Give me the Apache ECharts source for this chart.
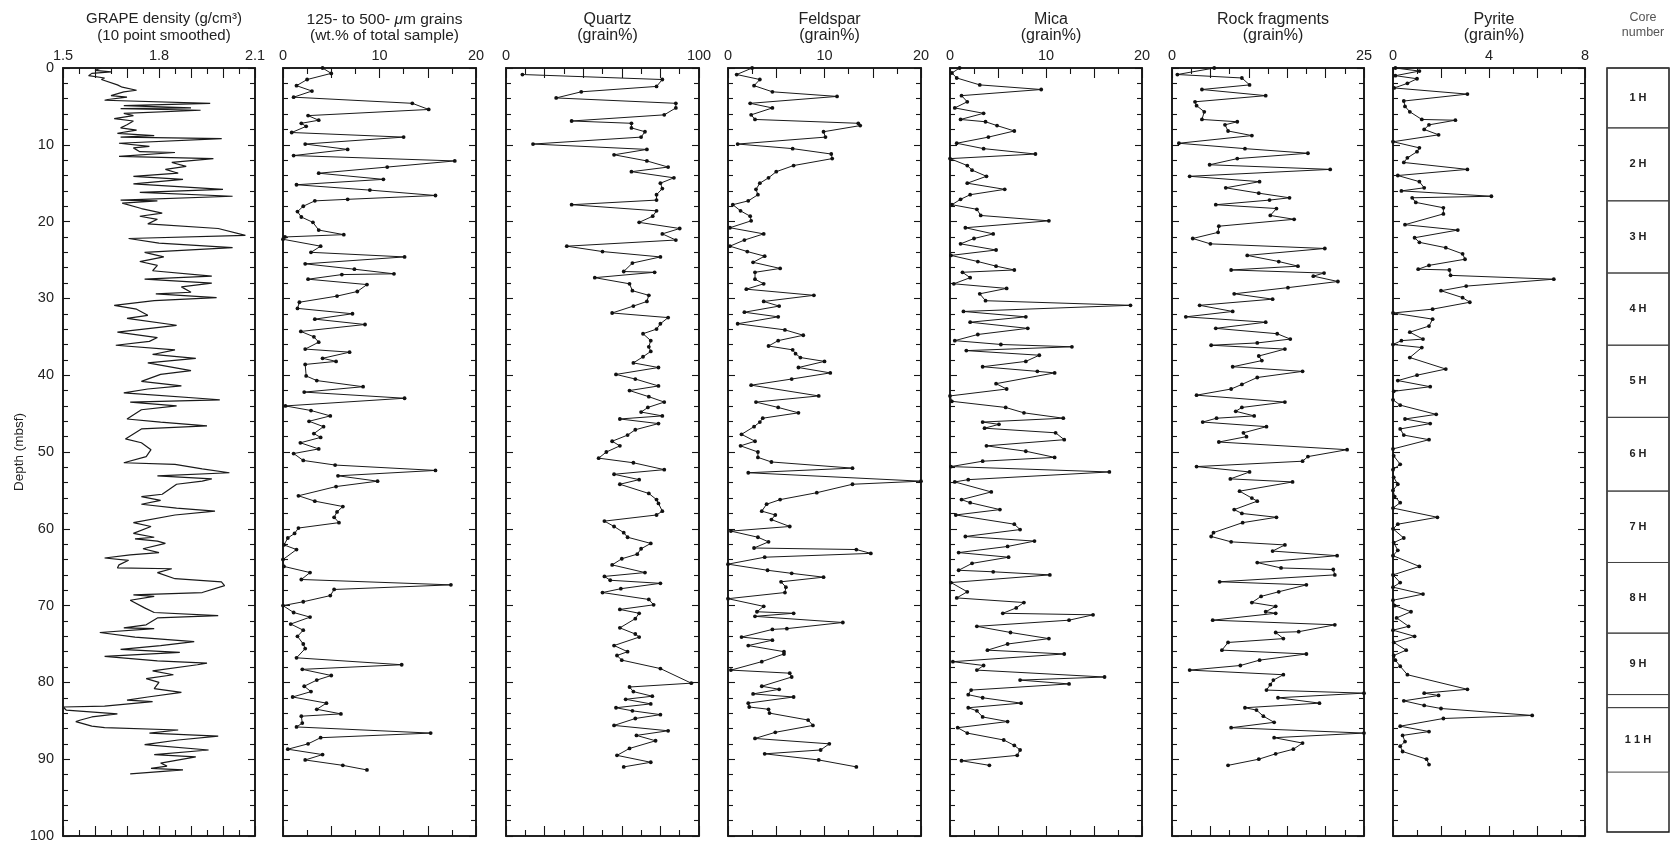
<!DOCTYPE html>
<html>
<head>
<meta charset="utf-8">
<script src="https://cdn.jsdelivr.net/npm/echarts@6/dist/echarts.min.js"></script>
<style>
html,body{margin:0;padding:0;background:#fff;}
#chart{width:1680px;height:848px;}
</style>
</head>
<body>
<div id="chart"></div>
<script>
// ---------- DATA: [depth (mbsf), value] ----------
const grapeDensity = [[0,1.62],[0.3,1.60],[0.5,1.65],[0.7,1.59],[1.0,1.58],[1.3,1.63],[1.5,1.62],[2.2,1.67],[2.5,1.685],[2.9,1.73],[3.1,1.69],[3.6,1.65],[3.8,1.70],[4.1,1.64],[4.2,1.63],[4.6,1.96],[4.9,1.69],[5.2,1.90],[5.3,1.68],[5.5,1.93],[5.9,1.69],[6.2,1.72],[6.6,1.66],[6.9,1.72],[7.4,1.70],[7.8,1.68],[8.1,1.73],[8.5,1.67],[8.8,1.785],[9.0,1.68],[9.2,1.996],[9.8,1.675],[10.2,1.77],[10.4,1.72],[10.9,1.74],[11.0,1.85],[11.5,1.675],[11.8,1.97],[12.3,1.84],[12.8,1.885],[13.2,1.82],[13.7,1.86],[14.1,1.72],[14.5,1.875],[15.1,1.72],[15.8,2.00],[16.2,1.74],[16.7,2.03],[17.2,1.68],[17.3,1.795],[17.6,1.685],[18.3,1.745],[18.9,1.81],[19.3,1.74],[19.7,1.795],[20.3,1.765],[20.9,1.985],[21.8,2.07],[22.2,1.705],[22.8,1.80],[23.4,2.03],[24.0,1.755],[24.6,1.815],[25.2,1.74],[25.7,1.795],[26.4,1.78],[27.1,1.965],[27.5,1.755],[28.0,1.965],[28.5,1.87],[29.2,1.90],[29.4,1.79],[29.9,1.98],[30.3,1.785],[30.9,1.66],[31.4,1.73],[32.2,1.765],[32.6,1.70],[33.5,1.855],[34.4,1.67],[35.1,1.795],[35.6,1.77],[36.1,1.665],[36.7,1.85],[37.3,1.78],[37.8,1.915],[38.4,1.765],[39.4,1.90],[39.9,1.805],[40.8,1.745],[41.4,1.87],[41.8,1.765],[42.3,1.69],[43.2,1.99],[43.5,1.71],[44.0,1.855],[44.5,1.745],[45.7,1.70],[46.1,1.805],[46.6,1.95],[47.0,1.745],[48.3,1.695],[48.8,1.745],[49.7,1.775],[50.6,1.76],[51.4,1.69],[51.6,1.85],[52.2,1.935],[52.7,2.02],[53.1,1.795],[53.5,1.965],[53.8,1.935],[54.2,1.855],[55.5,1.81],[55.8,1.745],[56.3,1.805],[56.8,1.745],[57.3,1.855],[57.7,1.975],[58.2,1.85],[59.2,1.72],[59.7,1.775],[60.6,1.72],[61.1,1.785],[61.3,1.725],[61.6,1.795],[61.9,1.82],[62.6,1.75],[63.1,1.80],[63.4,1.71],[63.8,1.63],[64.1,1.705],[64.7,1.675],[65.1,1.67],[65.2,1.84],[65.7,1.795],[66.5,1.85],[66.9,1.995],[67.4,2.005],[68.3,1.935],[68.6,1.72],[68.8,1.785],[69.3,1.71],[70.3,1.755],[70.9,1.785],[71.3,1.985],[71.6,1.795],[72.5,1.76],[72.9,1.69],[73.0,1.785],[73.5,1.615],[74.1,1.725],[74.7,1.91],[75.2,1.805],[75.7,1.68],[76.1,1.865],[76.6,1.63],[77.2,1.795],[77.5,1.95],[77.7,1.92],[78.5,1.78],[79.0,1.845],[79.5,1.76],[80.0,1.80],[80.8,1.785],[81.3,1.87],[81.9,1.765],[82.3,1.70],[82.5,1.78],[83.1,1.63],[83.2,1.50],[83.6,1.51],[84.1,1.67],[84.5,1.59],[84.9,1.555],[85.1,1.54],[85.7,1.59],[85.9,1.63],[86.2,1.86],[86.6,1.77],[87.0,1.985],[87.5,1.86],[88.1,1.755],[88.8,1.955],[89.4,1.785],[89.7,1.915],[90.5,1.805],[90.9,1.825],[91.2,1.775],[91.4,1.875],[91.9,1.71]];

const coarseGrains = [[0,4.1],[0.7,5.0],[1.5,2.5],[2.3,1.4],[3.0,3.0],[3.8,1.1],[4.6,13.4],[5.4,15.1],[6.2,2.6],[6.8,3.7],[7.2,1.9],[7.6,2.4],[8.4,0.9],[9.0,12.5],[9.9,2.3],[10.6,6.7],[11.4,1.1],[12.1,17.8],[12.9,10.8],[13.7,3.7],[14.5,10.4],[15.2,1.4],[15.9,9.0],[16.6,15.8],[17.1,6.7],[17.3,3.3],[18.0,2.1],[18.7,1.5],[19.4,1.9],[20.1,3.1],[21.1,3.7],[21.7,6.3],[22.0,0.2],[22.3,0],[23.2,3.9],[24.0,2.9],[24.6,12.6],[25.5,2.3],[26.2,7.4],[26.8,11.5],[26.9,6.1],[27.5,2.6],[28.2,8.7],[29.1,7.7],[29.7,5.6],[30.5,1.7],[31.3,1.5],[32.0,7.2],[32.7,3.3],[33.4,8.5],[34.3,1.85],[35.0,3.2],[35.7,3.7],[36.6,2.3],[37.0,6.9],[37.8,4.1],[38.2,5.5],[38.6,2.3],[40.1,2.4],[40.7,3.5],[41.5,8.3],[42.2,2.2],[43.0,12.6],[44.0,0.25],[44.6,2.9],[45.3,4.9],[46.0,2.7],[46.7,4.2],[47.6,3.2],[48.1,3.9],[48.8,1.8],[49.6,3.7],[50.2,1.1],[51.1,2.1],[51.7,5.4],[52.4,15.8],[53.1,5.7],[53.8,9.8],[54.5,5.5],[55.7,1.6],[56.4,3.3],[57.1,6.2],[57.8,5.6],[58.5,5.3],[59.2,5.8],[59.9,1.6],[60.6,1.2],[61.2,0.5],[62.1,0.1],[62.7,1.4],[64.0,0],[64.9,0.1],[65.7,2.8],[66.6,1.9],[67.3,17.4],[67.9,5.3],[68.7,4.9],[69.5,2.1],[70.0,0],[70.9,1.1],[71.5,2.8],[72.4,0.8],[73.2,2.1],[74.0,1.5],[75.0,2.1],[75.6,2.3],[76.8,1.4],[77.7,12.3],[78.3,2.0],[79.1,5.0],[79.7,3.5],[80.5,2.2],[81.2,2.9],[81.9,1.0],[82.7,4.5],[83.5,3.5],[84.1,6.0],[84.4,1.9],[85.3,2.0],[85.8,1.4],[86.6,15.3],[87.2,3.9],[88.0,2.6],[88.7,0.5],[89.4,4.1],[90.1,2.3],[90.8,6.2],[91.4,8.7]];

const quartz = [[0.85,8.5],[1.5,81],[2.4,78],[3.1,39],[3.9,26],[4.6,88],[5.2,88],[6.1,82],[6.9,34],[7.2,65],[7.8,65],[8.3,72],[9.0,70],[9.9,14],[10.6,73],[11.3,56],[12.1,73],[12.9,84],[13.5,65],[14.3,87],[15.0,80],[15.7,81],[16.5,78],[17.2,78],[17.8,34],[18.6,78],[19.3,76],[20.1,69],[20.9,90],[21.6,81],[22.4,88],[23.2,31.5],[23.9,50],[24.6,80],[25.4,65.5],[26.5,61],[26.6,77],[27.3,46],[28.1,64],[29.0,65.5],[29.6,74],[30.4,73],[31.0,66],[31.9,55],[32.5,84],[33.3,80],[34.0,78],[34.6,71],[35.5,75],[36.3,74],[36.9,75],[37.6,71],[38.4,66],[39.0,79],[39.9,57],[40.5,67],[41.4,79],[42.0,64],[42.8,74],[43.5,82],[44.2,73.5],[44.8,70],[45.3,81],[45.7,59],[46.3,79],[47.1,67],[47.8,63],[48.6,55],[49.2,59],[50.0,52],[50.8,48],[51.4,66],[52.3,82],[52.9,56],[53.6,69],[54.2,59],[55.4,74],[56.2,78],[56.7,79],[57.7,81],[58.2,78],[59.0,51],[59.7,56],[60.5,61],[61.1,63],[61.9,75],[62.6,70],[63.3,68],[63.9,60],[64.7,55],[65.7,72],[66.2,51],[66.7,54],[67.1,80],[67.8,59.5],[68.3,50],[69.2,74],[69.9,76.5],[70.5,59],[71.0,69],[71.7,67],[72.9,59],[73.7,67],[74.1,69],[75.2,56],[76.0,63],[76.5,57.5],[77.1,60],[78.2,80],[80.1,96],[80.6,64],[81.2,66],[81.8,75.8],[82.2,62],[82.8,75],[83.3,57],[83.7,65.5],[84.2,80],[84.7,67],[85.6,56],[86.3,84],[86.9,67.6],[87.6,77.5],[88.6,64],[89.5,57.5],[90.4,75],[91.0,61]];

const feldspar = [[0,2.5],[0.85,0.9],[1.5,3.3],[2.3,2.7],[3.1,4.6],[3.7,11.3],[4.6,2.3],[5.2,4.6],[6.1,2.4],[6.7,2.8],[7.2,13.5],[7.5,13.7],[8.3,9.9],[9.0,10.1],[9.9,1.0],[10.5,6.7],[11.2,10.7],[11.8,10.8],[12.7,6.8],[13.5,5.0],[14.3,4.2],[15.0,3.3],[15.8,2.9],[16.5,3.1],[17.3,2.1],[17.8,0.5],[18.6,1.3],[19.3,2.3],[19.9,2.4],[20.8,0.2],[21.6,3.7],[22.4,1.7],[23.2,0.2],[23.9,2.0],[24.5,3.8],[25.3,2.6],[26.1,5.4],[26.6,2.8],[27.5,2.8],[28.1,3.7],[28.8,1.9],[29.6,8.9],[30.4,3.7],[31.0,5.3],[31.8,1.7],[32.4,5.2],[33.3,1.0],[34.1,5.9],[34.8,7.8],[35.5,5.2],[36.2,4.2],[36.7,6.7],[37.2,7.0],[37.7,7.5],[38.2,10.0],[39.0,7.3],[39.7,10.6],[40.5,6.6],[41.3,2.4],[42.7,9.4],[43.5,2.9],[44.2,5.2],[44.9,7.3],[45.6,3.6],[46.1,3.3],[46.7,2.7],[47.7,1.4],[48.6,2.8],[49.2,1.3],[50.0,3.1],[50.7,3.1],[51.3,4.5],[52.1,12.9],[52.7,2.1],[53.8,20],[54.2,12.9],[55.3,9.2],[56.2,5.4],[56.8,4.0],[57.7,3.5],[58.2,4.9],[58.8,4.5],[59.7,6.4],[60.3,0.3],[61.1,3.1],[61.7,4.2],[62.5,2.7],[62.7,13.3],[63.2,14.8],[63.7,3.8],[64.6,0],[65.4,4.1],[65.8,6.6],[66.3,9.9],[66.9,5.5],[67.6,6.0],[68.3,5.9],[69.1,0],[70.1,3.7],[70.8,3.0],[71.0,6.8],[71.4,2.8],[72.2,11.9],[73.0,6.1],[73.1,4.6],[74.1,1.4],[74.5,4.6],[75.2,2.1],[76.0,5.8],[76.3,5.8],[77.3,3.5],[78.4,0.3],[78.8,6.4],[79.3,6.6],[80.5,3.5],[80.9,5.3],[81.5,2.6],[81.9,6.8],[82.7,2.1],[83.2,2.2],[83.5,4.2],[84.0,4.3],[84.9,8.3],[85.6,8.8],[86.5,4.9],[87.3,2.8],[88.0,10.5],[88.8,9.6],[89.3,3.8],[90.1,9.4],[91.0,13.3]];

const mica = [[0,1.0],[0.65,0.2],[1.3,0.7],[2.2,3.1],[2.8,9.5],[3.6,1.2],[4.4,1.8],[5.2,0.5],[5.9,3.5],[6.7,1.1],[7.0,3.7],[7.5,4.9],[8.2,6.7],[9.0,4.0],[9.8,0.7],[10.5,3.5],[11.2,8.9],[11.8,0],[12.7,1.8],[13.3,2.3],[14.1,3.8],[15.0,1.8],[15.8,5.7],[16.5,2.1],[17.1,1.1],[17.8,0.2],[18.4,2.8],[19.2,3.2],[19.9,10.3],[20.8,1.6],[21.6,4.5],[22.2,2.5],[22.9,1.1],[23.7,4.8],[24.4,0.1],[25.2,2.9],[25.8,4.8],[26.3,6.7],[26.6,1.3],[27.3,2.1],[28.1,0.4],[28.7,5.9],[29.4,3.1],[30.3,3.7],[30.9,18.8],[31.7,1.4],[32.4,7.9],[33.1,2.1],[33.9,8.1],[34.7,2.9],[35.5,0.5],[36.0,5.3],[36.3,12.7],[36.8,1.7],[37.4,9.3],[38.2,7.9],[38.9,3.4],[39.5,9.1],[39.7,10.9],[41.1,4.8],[41.8,5.9],[42.7,0],[43.4,0.2],[44.2,5.8],[44.9,7.7],[45.6,11.8],[46.1,3.4],[46.4,5.1],[46.9,3.6],[47.5,11.0],[48.4,11.9],[49.2,3.8],[49.9,7.9],[50.7,10.9],[51.2,3.4],[51.9,0.1],[52.6,16.6],[53.6,1.9],[53.9,0.5],[55.2,4.3],[56.2,1.2],[56.6,2.1],[57.5,5.2],[58.2,0.6],[59.4,6.7],[60.1,7.3],[61.0,1.6],[61.6,8.8],[62.3,6.0],[63.1,0.9],[63.7,6.1],[64.5,2.3],[65.4,0.9],[65.6,4.5],[66.0,10.4],[67.0,0.1],[68.2,1.8],[69.0,0.7],[69.6,7.7],[70.3,6.9],[71.0,5.5],[71.2,14.9],[71.9,12.4],[72.7,2.8],[73.5,6.3],[74.3,10.3],[75.0,6.0],[75.8,3.9],[76.3,11.9],[77.3,0.3],[77.8,3.5],[78.4,2.8],[79.3,16.1],[79.7,7.3],[80.2,12.4],[81.0,2.2],[81.6,1.9],[82.0,3.4],[82.7,7.4],[83.3,1.9],[83.7,2.8],[84.5,3.4],[85.1,6.0],[85.9,0.8],[86.6,1.8],[87.5,5.6],[88.2,6.7],[88.8,7.3],[89.5,7.0],[90.2,1.2],[90.8,4.1]];

const rockFragments = [[0,5.5],[0.85,0.7],[1.3,9.1],[2.2,10.1],[2.8,3.9],[3.6,12.2],[4.4,3.0],[4.9,3.2],[5.7,4.2],[6.7,3.9],[7.0,8.5],[7.4,6.9],[8.2,7.3],[8.8,10.4],[9.8,0.9],[10.5,9.5],[11.1,17.7],[11.8,8.5],[12.6,4.9],[13.2,20.6],[14.1,2.3],[14.8,11.4],[15.6,7.0],[16.3,11.3],[16.9,15.3],[17.2,12.7],[17.8,5.7],[18.3,13.6],[19.2,12.8],[19.7,15.9],[20.6,6.1],[21.4,6.0],[22.2,2.7],[22.9,5.0],[23.5,19.9],[24.4,9.8],[25.2,13.9],[25.8,16.4],[26.3,7.7],[26.7,19.8],[27.1,18.4],[27.8,21.6],[28.6,15.1],[29.4,8.1],[30.1,13.1],[30.9,3.6],[31.7,7.9],[32.4,1.8],[33.1,12.2],[33.9,5.7],[34.6,13.7],[35.3,15.4],[35.8,11.1],[36.1,5.1],[36.6,14.7],[37.5,11.3],[38.1,11.7],[38.9,7.9],[39.5,17.0],[40.3,11.1],[41.2,9.1],[41.8,7.7],[42.6,3.2],[43.5,14.7],[44.2,9.1],[44.7,8.3],[45.3,10.7],[45.6,5.8],[46.1,4.0],[46.7,12.3],[47.5,9.3],[48.0,9.7],[48.7,6.1],[49.7,22.8],[50.6,17.7],[51.2,17.0],[51.9,3.2],[52.6,10.1],[53.5,7.6],[53.9,15.7],[55.1,8.8],[56.0,10.4],[56.4,11.1],[57.5,8.1],[58.0,9.1],[58.5,13.6],[59.2,9.2],[60.5,5.4],[61.0,5.1],[61.7,7.7],[62.1,14.7],[62.9,13.1],[63.5,21.5],[64.4,11.1],[65.1,14.2],[65.3,21.0],[66.0,21.2],[66.9,6.2],[67.3,17.5],[68.2,13.9],[68.8,11.6],[69.6,10.4],[70.1,13.5],[70.8,12.2],[71.0,13.5],[71.9,5.3],[72.5,21.2],[73.4,16.5],[73.5,13.5],[74.3,14.5],[74.8,7.3],[75.8,6.5],[76.3,17.5],[77.1,11.4],[77.8,8.9],[78.4,2.3],[79.0,14.5],[79.7,13.2],[80.3,12.8],[81.0,12.3],[81.4,25],[82.0,13.8],[82.7,19.2],[83.3,9.5],[83.6,11.0],[84.4,11.9],[85.2,13.3],[85.9,7.7],[86.6,25],[87.2,13.3],[87.9,17.0],[88.7,15.8],[89.3,13.5],[90.0,11.3],[90.8,7.3]];

const pyrite = [[0,0.1],[0.4,1.1],[1.0,0.1],[1.4,1.0],[2.0,0.6],[2.6,0.05],[3.4,3.1],[4.3,0.45],[5.0,0.5],[5.7,0.7],[6.7,1.2],[6.8,2.6],[7.4,1.5],[8.0,1.3],[8.7,1.9],[9.6,0],[10.4,1.1],[10.9,1.0],[11.7,0.6],[12.3,0.45],[13.2,3.1],[14.0,0.2],[14.8,1.1],[15.6,1.3],[16.0,0.35],[16.7,4.1],[16.9,0.8],[17.5,0.95],[18.2,2.1],[19.0,2.1],[20.4,0.5],[21.1,2.7],[22.1,0.9],[22.7,1.1],[23.4,2.2],[24.2,2.9],[24.9,3.0],[25.7,1.5],[26.2,1.05],[26.3,2.35],[27.0,2.4],[27.5,6.7],[28.4,3.05],[29.0,2.0],[29.9,2.9],[30.5,3.2],[31.4,1.65],[31.9,0],[32.7,1.65],[33.6,1.5],[34.4,0.7],[35.3,1.25],[35.5,0.35],[36.0,0],[36.4,1.2],[37.7,0.7],[39.2,2.2],[40.0,1.0],[40.7,0.2],[41.5,1.55],[42.1,0.03],[43.2,0],[43.9,0.3],[45.1,1.8],[45.7,0.5],[46.3,1.55],[47.0,0.3],[47.8,0.45],[48.4,1.5],[49.6,0],[50.5,0.03],[51.6,0.3],[52.3,0],[53.3,0.03],[54.2,0.2],[55.0,0],[55.8,0.07],[56.6,0.3],[57.3,0],[58.5,1.85],[59.4,0.2],[60.0,0],[61.2,0.45],[61.8,0.03],[62.8,0.2],[63.5,0],[64.9,1.1],[66.0,0],[67.0,0.3],[67.6,0],[68.5,1.25],[69.3,0],[70.0,0.07],[70.8,0.75],[71.6,0.15],[72.7,0.65],[73.2,0],[74.0,0.9],[74.8,0.03],[75.8,0.55],[76.5,0.03],[77.1,0.1],[77.9,0.3],[79.0,0.6],[80.9,3.1],[81.4,1.3],[81.7,1.9],[82.4,0.45],[83.0,1.3],[83.4,2.0],[84.3,5.8],[84.7,2.1],[85.7,0.3],[86.4,1.5],[86.9,0.4],[87.7,0.5],[88.3,0.3],[89.0,0.4],[90.0,1.4],[90.7,1.5]];

// core intervals (mbsf)
const coreTop    = [0, 7.8, 17.3, 26.7, 36.1, 45.5, 55.1, 64.4, 73.6, 81.6, 83.3];
const coreBottom = [7.8, 17.3, 26.7, 36.1, 45.5, 55.1, 64.4, 73.6, 81.6, 83.3, 91.7];
const coreName   = ['1 H','2 H','3 H','4 H','5 H','6 H','7 H','8 H','9 H','','1 1 H'];

// axis tick labels
const grapeLabels = [1.5, 1.8, 2.1];
const grainLabels = [0, 10, 20];
const quartzLabels = [0, 100];
const feldsparLabels = [0, 10, 20];
const micaLabels = [0, 10, 20];
const rockLabels = [0, 25];
const pyriteLabels = [0, 4, 8];
const depthLabels = [0,10,20,30,40,50,60,70,80,90,100];

// ---------- LAYOUT ----------
const FONT = '"Liberation Sans", Arial, Helvetica, sans-serif';
const NARROW = '"Liberation Sans Narrow", "Liberation Sans", Arial, sans-serif';
const TOP = 68, BOTTOM = 836;
const panels = [
  {data: grapeDensity, min:1.5, max:2.1, interval:0.1, labels: grapeLabels, dec:1, sym:false, left:63, width:192,
   title:'GRAPE density (g/cm³)\n(10 point smoothed)', font:FONT, tsize:15},
  {data: coarseGrains, min:0, max:20, interval:5, labels: grainLabels, dec:0, sym:true, left:283, width:193,
   title:'125- to 500- {i|μ}m grains\n(wt.% of total sample)', font:FONT, tsize:15.5},
  {data: quartz, min:0, max:100, interval:20, labels: quartzLabels, dec:0, sym:true, left:506, width:193,
   title:'Quartz\n(grain%)', font:NARROW, tsize:16},
  {data: feldspar, min:0, max:20, interval:5, labels: feldsparLabels, dec:0, sym:true, left:728, width:193,
   title:'Feldspar\n(grain%)', font:NARROW, tsize:16},
  {data: mica, min:0, max:20, interval:5, labels: micaLabels, dec:0, sym:true, left:950, width:192,
   title:'Mica\n(grain%)', font:NARROW, tsize:16},
  {data: rockFragments, min:0, max:25, interval:5, labels: rockLabels, dec:0, sym:true, left:1172, width:192,
   title:'Rock fragments\n(grain%)', font:NARROW, tsize:16},
  {data: pyrite, min:0, max:8, interval:2, labels: pyriteLabels, dec:0, sym:true, left:1393, width:192,
   title:'Pyrite\n(grain%)', font:NARROW, tsize:16}
];
const core = {left:1607, width:62};

const INK = '#161616';
const grid = [], xAxis = [], yAxis = [], series = [], title = [];

panels.forEach((p, i) => {
  grid.push({left:p.left, width:p.width, top:TOP, height:BOTTOM-TOP, show:true, borderColor:INK, borderWidth:1.6, containLabel:false});
  const base = {type:'value', gridIndex:i, min:p.min, max:p.max, interval:p.interval,
    splitLine:{show:false}, axisLine:{show:true, onZero:false, lineStyle:{color:INK, width:1.6}},
    axisTick:{show:true, inside:true, length:10, lineStyle:{color:INK, width:1.1}},
    minorTick:{show:true, splitNumber:2, length:6, lineStyle:{color:INK, width:1.1}},
    minorSplitLine:{show:false}};
  xAxis.push(Object.assign({}, base, {position:'top',
    axisLabel:{show:true, margin:5, color:'#222', fontSize:14.5, fontFamily:p.font, showMinLabel:true, showMaxLabel:true,
      formatter: v => p.labels.some(t => Math.abs(t - v) < 1e-6) ? v.toFixed(p.dec) : ''}}));
  xAxis.push(Object.assign({}, base, {position:'bottom', axisLabel:{show:false}}));
  const ybase = {type:'value', gridIndex:i, min:0, max:100, interval:10, inverse:true,
    splitLine:{show:false}, axisLine:{show:true, onZero:false, lineStyle:{color:INK, width:1.6}},
    axisTick:{show:true, inside:true, length:7, lineStyle:{color:INK, width:1.1}},
    minorTick:{show:true, splitNumber:5, length:5, lineStyle:{color:INK, width:1.1}}};
  yAxis.push(Object.assign({}, ybase, {position:'left',
    axisLabel: i === 0 ? {show:true, margin:9, color:'#222', fontSize:14.5, fontFamily:FONT,
      formatter: v => depthLabels.includes(Math.round(v)) ? String(Math.round(v)) : ''} : {show:false},
    name: i === 0 ? 'Depth (mbsf)' : '', nameLocation:'middle', nameGap:37, nameRotate:90,
    nameTextStyle:{fontSize:13.5, color:'#222', fontFamily:FONT}}));
  yAxis.push(Object.assign({}, ybase, {position:'right', axisLabel:{show:false}}));
  series.push({type:'line', xAxisIndex:2*i, yAxisIndex:2*i,
    data: p.data.map(d => [d[1], d[0]]),
    showSymbol:p.sym, symbol:'circle', symbolSize:3.8,
    itemStyle:{color:'#111'}, lineStyle:{color:'#1a1a1a', width:p.sym ? 1 : 1.2},
    emphasis:{disabled:true}, silent:true, animation:false, z:3});
  title.push({text:p.title, left:p.left + p.width/2, top:6, textAlign:'center',
    textStyle:{fontSize:p.tsize, fontWeight:'normal', color:'#222', fontFamily:p.font, lineHeight:16.5,
      rich:{i:{fontStyle:'italic', fontSize:p.tsize, fontFamily:p.font, color:'#222'}}}});
});

// core column
const ci = panels.length;
grid.push({left:core.left, width:core.width, top:TOP, height:BOTTOM-TOP-4, show:true, borderColor:INK, borderWidth:1.4});
xAxis.push({type:'value', gridIndex:ci, min:0, max:1, show:false});
yAxis.push({type:'value', gridIndex:ci, min:0, max:99.5, inverse:true, show:false});
series.push({type:'custom', xAxisIndex:xAxis.length-1, yAxisIndex:yAxis.length-1, silent:true, animation:false,
  data: coreTop.map((t, k) => [0.5, t, coreBottom[k]]),
  encode:{x:0, y:1},
  renderItem:(params, api) => {
    const t = api.value(1), b = api.value(2);
    const p0 = api.coord([0, t]), p1 = api.coord([1, b]);
    return {type:'group', children:[
      {type:'rect', shape:{x:p0[0], y:p0[1], width:p1[0]-p0[0], height:p1[1]-p0[1]},
       style:{fill:'none', stroke:'#444', lineWidth:1}},
      {type:'text', style:{text:coreName[params.dataIndex], x:(p0[0]+p1[0])/2, y:(p0[1]+p1[1])/2,
        align:'center', verticalAlign:'middle', fill:'#222', font:'bold 11px ' + FONT}}
    ]};
  }});
title.push({text:'Core\nnumber', left:core.left + core.width/2, top:5, textAlign:'center',
  textStyle:{fontSize:12.5, fontWeight:'normal', color:'#555', fontFamily:NARROW, lineHeight:15}});

const chart = echarts.init(document.getElementById('chart'), null, {renderer:'canvas'});
chart.setOption({backgroundColor:'#fff', animation:false, title, grid, xAxis, yAxis, series});
</script>
</body>
</html>
